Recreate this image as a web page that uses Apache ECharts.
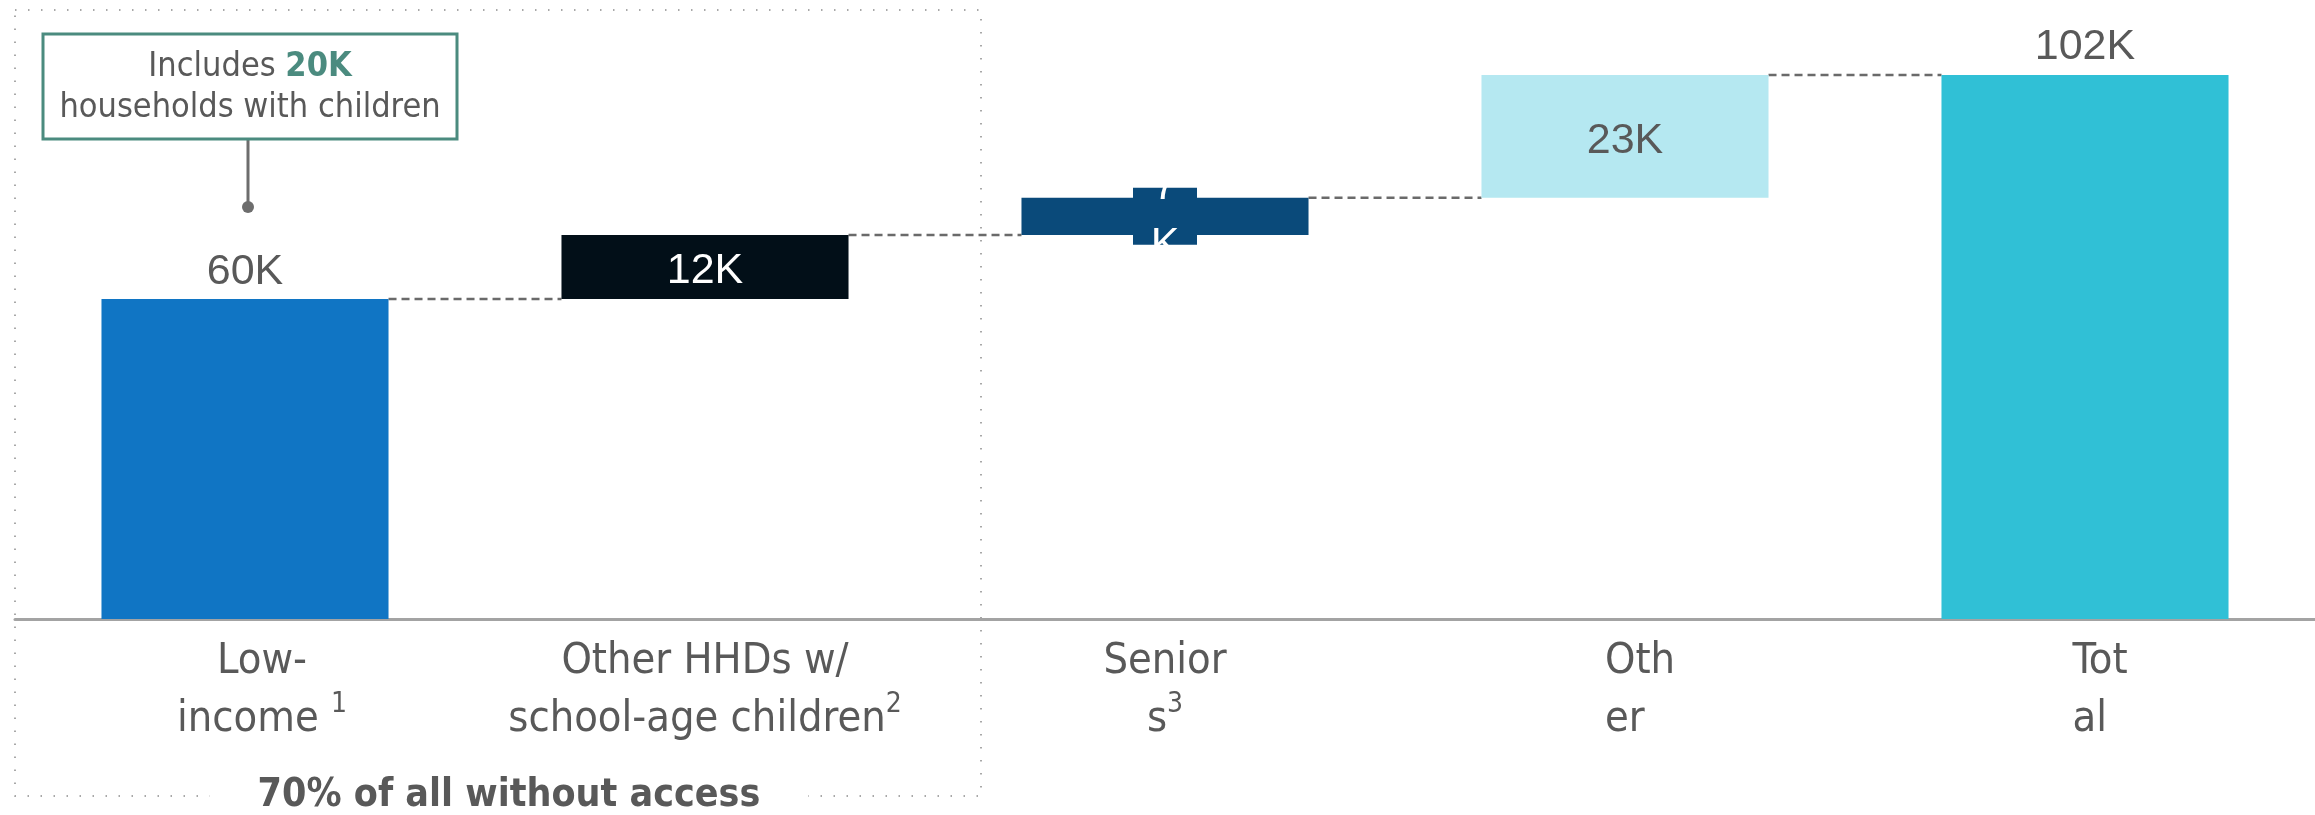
<!DOCTYPE html>
<html>
<head>
<meta charset="utf-8">
<script src="https://cdn.jsdelivr.net/npm/echarts@6/dist/echarts.min.js"></script>
<style>
  html, body { margin: 0; padding: 0; background: #fff; }
  #chart { width: 2315px; height: 815px; }
</style>
</head>
<body>
<div id="chart"></div>
<script>
// 类别（轴标签按原图断行）
const categories = ['Low-\nincome ¹', 'Other HHDs w/\nschool-age children²', 'Senior\ns³', 'Oth\ner', 'Tot\nal'];
// 各段增量（千户）和合计
const steps = [60, 12, 7, 23];
const total = 102;
// 注释里的数字
const calloutValue = 20;
const groupShare = 70;

const colors = ['#1075C4', '#020F18', '#0A4A7A', '#B5E8F1', '#30C0D6'];
const textFont = '"DejaVu Sans Condensed", "DejaVu Sans", sans-serif';
const numFont = '"Liberation Sans", Arial, sans-serif';

// 瀑布图：透明底座 + 可见段
const values = steps.concat([total]);
const bases = [];
const levels = [];
let run = 0;
steps.forEach(function (v) { bases.push(run); run += v; levels.push(run); });
bases.push(0);

const barLabels = [
  { position: 'top', distance: 5, color: '#595959' },
  { position: 'inside', color: '#ffffff', offset: [0, 4] },
  { position: 'inside', color: '#ffffff', backgroundColor: colors[2], width: 40, height: 57,
    padding: [0, 12], overflow: 'break', lineHeight: 58 },
  { position: 'inside', color: '#595959', offset: [0, 5] },
  { position: 'top', distance: 6, color: '#595959' }
];

const barData = values.map(function (v, i) {
  return { value: v, itemStyle: { color: colors[i] }, label: barLabels[i] };
});

// 连接虚线：从第 i 根柱子右边到第 i+1 根左边
const connectors = levels.map(function (v, i) { return [i, v]; });

// 轴标签的 rich 样式
const labelStyles = ['s', 'c', 'c', 'l', 'l'];
const supMap = { '¹': '1', '²': '2', '³': '3' };

const myChart = echarts.init(document.getElementById('chart'));
myChart.setOption({
  backgroundColor: '#ffffff',
  animation: false,
  grid: { left: 15, right: 0, top: 75, bottom: 196 },
  xAxis: {
    type: 'category',
    data: categories,
    axisTick: { show: false },
    axisLine: { lineStyle: { color: '#a3a3a3', width: 3 } },
    axisLabel: {
      interval: 0,
      margin: 14,
      color: '#595959',
      fontFamily: textFont,
      fontSize: 43,
      lineHeight: 58,
      formatter: function (v, i) {
        const st = labelStyles[i];
        return v.split('\n').map(function (s) {
          const m = s.match(/^(.*?)([¹²³])$/);
          if (m) {
            return '{' + st + '|' + m[1] + '}{sup|' + supMap[m[2]] + '}';
          }
          return '{' + st + '|' + s + '}';
        }).join('\n');
      },
      rich: {
        c: { color: '#595959', fontFamily: textFont, fontSize: 43, lineHeight: 58 },
        s: { color: '#595959', fontFamily: textFont, fontSize: 43, lineHeight: 58, padding: [0, 0, 0, 34] },
        l: { color: '#595959', fontFamily: textFont, fontSize: 43, lineHeight: 58, align: 'left', padding: [0, 0, 0, 30] },
        sup: { color: '#595959', fontFamily: textFont, fontSize: 28, lineHeight: 30, verticalAlign: 'top' }
      }
    }
  },
  yAxis: {
    type: 'value',
    min: 0,
    max: total,
    show: false,
    splitLine: { show: false }
  },
  series: [
    {
      name: 'base',
      type: 'bar',
      stack: 'w',
      barWidth: '62.4%',
      silent: true,
      itemStyle: { color: 'transparent' },
      data: bases
    },
    {
      name: 'households',
      type: 'bar',
      stack: 'w',
      barWidth: '62.4%',
      label: {
        show: true,
        fontFamily: numFont,
        fontSize: 43,
        textBorderWidth: 0,
        formatter: '{c}K'
      },
      data: barData
    },
    {
      name: 'connector',
      type: 'custom',
      silent: true,
      z: 1,
      encode: { x: 0, y: 1 },
      data: connectors,
      renderItem: function (params, api) {
        const i = api.value(0);
        const p1 = api.coord([i, api.value(1)]);
        const p2 = api.coord([i + 1, api.value(1)]);
        const half = api.size([1, 0])[0] * 0.624 / 2;
        return {
          type: 'line',
          shape: { x1: p1[0] + half, y1: p1[1], x2: p2[0] - half, y2: p2[1] },
          style: { stroke: '#6a6a6a', lineWidth: 2.5, lineDash: [8, 5] }
        };
      }
    }
  ],
  graphic: [
    // 点线框，圈出前两类
    {
      type: 'rect', silent: true, z: 0,
      shape: { x: 15, y: 10, width: 966, height: 786 },
      style: { fill: 'none', stroke: '#8c8c8c', lineWidth: 1.5, lineDash: [1.5, 11.5] }
    },
    {
      type: 'text', silent: true, z: 5,
      x: 509, y: 796,
      style: {
        text: groupShare + '% of all without access',
        fill: '#595959', fontFamily: textFont, fontWeight: 'bold', fontSize: 39,
        align: 'center', verticalAlign: 'middle',
        backgroundColor: '#ffffff', padding: [0, 48]
      }
    },
    // 注释框
    {
      type: 'line', silent: true, z: 5,
      shape: { x1: 248, y1: 139, x2: 248, y2: 207 },
      style: { stroke: '#6d6d6d', lineWidth: 3 }
    },
    {
      type: 'circle', silent: true, z: 5,
      shape: { cx: 248, cy: 207, r: 6 },
      style: { fill: '#6d6d6d' }
    },
    {
      type: 'rect', silent: true, z: 5,
      shape: { x: 43, y: 34, width: 414, height: 105 },
      style: { fill: '#ffffff', stroke: '#4B8B7F', lineWidth: 3 }
    },
    {
      type: 'text', silent: true, z: 6,
      x: 250, y: 88,
      style: {
        text: '{g|Includes }{t|' + calloutValue + 'K}\n{g|households with children}',
        align: 'center', verticalAlign: 'middle',
        rich: {
          g: { fill: '#595959', fontFamily: textFont, fontSize: 34, lineHeight: 41 },
          t: { fill: '#4B8B7F', fontFamily: textFont, fontSize: 34, fontWeight: 'bold', lineHeight: 41 }
        }
      }
    }
  ]
});
</script>
</body>
</html>
